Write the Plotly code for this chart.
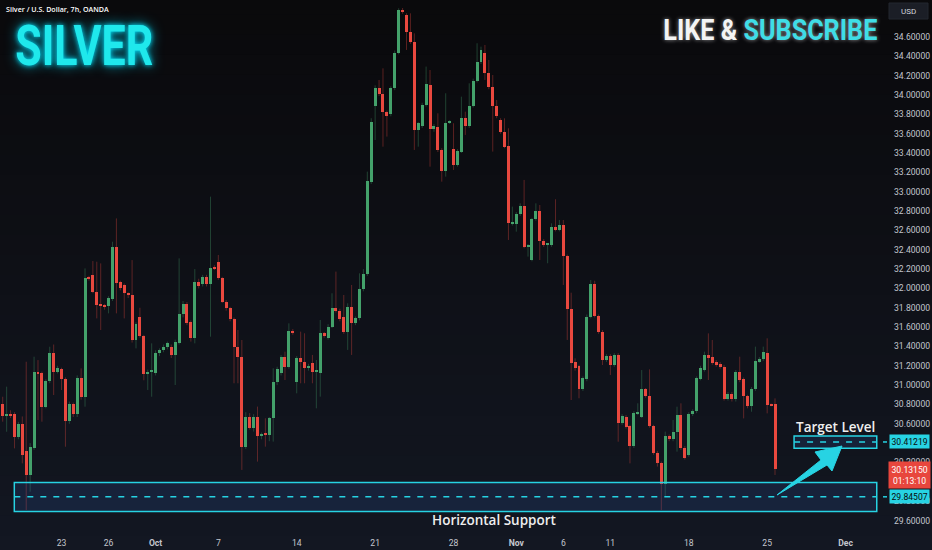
import numpy as np
import plotly.graph_objects as go

# ---------------- data (7h candles, XAG/USD) ----------------
opens = [30.804,30.690,30.700,30.698,30.467,30.598,30.322,30.070,30.346,31.139,
         31.121,30.777,31.042,31.328,31.139,31.166,31.059,30.629,30.801,30.698,
         31.077,30.880,32.110,32.138,31.966,31.835,31.828,31.818,31.890,32.431,
         32.062,32.035,31.952,31.932,31.466,31.700,31.508,31.111,31.139,31.121,
         31.328,31.363,31.390,31.397,31.311,31.439,31.732,31.835,31.656,31.483,
         32.069,32.046,32.115,32.046,32.225,32.274,32.105,31.863,31.794,31.681,
         31.398,31.295,30.364,30.674,30.561,30.674,30.474,30.491,30.485,30.657,
         31.036,31.122,31.295,31.191,31.560,31.036,31.277,31.243,31.174,31.226,
         31.139,31.129,31.536,31.491,31.605,31.794,31.770,31.701,31.553,31.812,
         31.646,31.691,31.991,32.150,33.104,33.887,34.070,34.011,33.821,33.804,
         34.070,34.438,34.880,34.828,34.656,34.552,33.639,33.680,33.897,34.104,
         33.646,33.673,33.432,33.218,33.715,33.439,33.277,33.415,33.766,33.680,
         33.887,34.145,34.338,34.438,34.232,34.087,33.887,33.740,33.621,33.473,
         32.673,32.667,32.767,32.853,32.425,32.294,32.715,32.804,32.494,32.449,
         32.449,32.639,32.605,32.653,32.336,31.784,31.243,31.198,30.960,31.060,
         31.708,32.046,31.715,31.553,31.260,31.301,31.208,31.311,30.612,30.674,
         30.577,30.374,30.708,30.674,30.956,30.887,30.577,30.301,30.198,29.977,
         30.474,30.439,30.512,30.691,30.353,30.277,30.698,30.732,31.063,31.156,
         31.311,31.287,31.242,31.218,31.191,30.856,30.908,30.853,31.139,31.060,
         30.887,30.784,30.956,31.249,31.267,31.336,30.794,30.805]
highs = [30.880,30.984,30.740,30.720,30.620,30.676,31.242,30.400,31.294,31.259,
         31.140,31.060,31.397,31.420,31.200,31.180,31.080,30.830,30.820,31.100,
         31.173,32.207,32.130,32.283,32.276,32.259,31.840,31.920,32.483,32.724,
         32.080,32.050,31.960,32.293,31.650,31.800,31.520,31.160,31.432,31.360,
         31.380,31.420,31.450,31.420,31.470,32.311,31.870,31.860,31.670,32.200,
         32.100,32.140,32.140,32.949,32.240,32.346,32.120,31.880,31.810,31.700,
         31.570,31.467,30.720,30.710,30.700,30.778,30.510,30.657,30.670,31.174,
         31.190,31.310,31.346,31.639,31.580,31.300,31.553,31.536,31.220,31.312,
         31.260,31.674,31.550,31.630,31.950,32.174,31.790,31.932,31.846,32.036,
         31.710,32.156,32.200,33.208,33.760,34.100,34.156,34.276,33.840,34.090,
         34.460,34.897,34.900,34.845,34.845,34.638,33.720,33.920,34.294,34.259,
         33.700,33.811,33.450,34.018,33.740,33.708,33.440,33.983,33.828,34.121,
         34.170,34.535,34.500,34.518,34.363,34.207,33.949,33.760,33.759,33.656,
         32.846,32.790,32.880,33.122,32.460,32.730,32.880,32.863,32.510,32.470,
         32.673,32.922,32.708,32.708,32.350,31.956,31.277,31.210,31.090,31.730,
         32.087,32.080,31.730,31.570,31.320,31.320,31.330,31.330,30.700,30.690,
         30.590,30.730,30.812,31.156,30.970,31.163,30.590,30.320,30.210,30.519,
         30.490,30.639,30.777,30.812,30.370,30.720,30.750,31.090,31.200,31.346,
         31.535,31.467,31.260,31.240,31.210,30.930,30.930,31.156,31.294,31.080,
         30.900,30.980,31.398,31.290,31.398,31.484,30.810,30.863]
lows = [30.622,30.518,30.660,30.346,30.440,30.191,29.708,29.898,30.330,30.639,
        30.622,30.760,31.020,30.898,31.120,30.949,30.363,30.600,30.670,30.670,
        30.850,30.777,32.080,31.950,31.690,31.570,31.780,31.742,31.870,31.742,
        31.980,31.690,31.900,31.440,31.380,31.490,31.050,30.950,30.880,31.100,
        31.300,31.340,31.370,31.280,31.001,31.420,31.700,31.620,31.450,31.432,
        32.000,32.020,32.020,31.501,32.190,32.090,31.850,31.770,31.660,31.019,
        31.019,30.123,30.340,30.540,30.520,30.209,30.440,30.364,30.420,30.416,
        31.000,31.100,31.053,31.170,31.520,30.915,31.019,31.019,31.150,31.019,
        30.760,30.881,31.490,31.470,31.590,31.750,31.660,31.530,31.364,31.312,
        31.620,31.670,31.970,32.130,33.080,33.535,33.990,33.466,33.570,33.780,
        34.050,34.420,34.840,34.466,34.530,33.432,33.466,33.660,33.880,33.259,
        33.620,33.410,33.104,33.156,33.700,33.225,33.260,33.400,33.587,33.660,
        33.870,34.130,34.320,34.156,34.060,33.415,33.760,33.600,33.450,32.501,
        32.650,32.587,32.750,32.415,32.329,32.280,32.700,32.294,32.430,32.260,
        32.430,32.590,32.590,32.036,31.467,30.846,31.150,30.864,30.940,31.040,
        31.690,31.700,31.530,31.208,31.240,31.105,31.190,30.415,30.590,30.550,
        30.191,30.350,30.690,30.660,30.870,30.560,30.280,30.157,29.709,29.850,
        30.420,30.420,30.312,30.330,30.230,30.260,30.680,30.710,31.050,31.140,
        31.053,31.210,31.190,31.170,30.840,30.840,30.830,30.830,31.030,30.656,
        30.760,30.725,30.940,31.230,31.250,30.708,30.780,30.071]
closes = [30.680,30.698,30.690,30.467,30.598,30.277,30.070,30.363,31.139,31.115,
          30.777,31.042,31.328,31.139,31.173,31.059,30.629,30.801,30.698,31.077,
          30.880,32.104,32.100,31.966,31.828,31.826,31.811,31.897,32.431,32.059,
          32.007,31.949,31.932,31.466,31.628,31.508,31.111,31.139,31.156,31.335,
          31.363,31.397,31.432,31.311,31.446,31.732,31.835,31.645,31.483,32.069,
          32.030,32.115,32.046,32.215,32.205,32.105,31.863,31.794,31.681,31.398,
          31.295,30.364,30.674,30.561,30.674,30.474,30.491,30.485,30.657,31.036,
          31.164,31.288,31.191,31.560,31.536,31.277,31.243,31.174,31.202,31.139,
          31.146,31.536,31.508,31.605,31.794,31.770,31.681,31.553,31.812,31.639,
          31.691,31.994,32.150,33.111,33.725,34.070,34.011,33.821,33.783,34.070,
          34.438,34.880,34.862,34.656,34.552,33.639,33.708,33.897,34.114,33.646,
          33.680,33.432,33.218,33.708,33.725,33.277,33.421,33.766,33.680,33.887,
          34.145,34.345,34.466,34.232,34.080,33.887,33.783,33.621,33.466,32.673,
          32.680,32.767,32.853,32.432,32.449,32.715,32.804,32.494,32.449,32.456,
          32.632,32.605,32.653,32.336,31.784,31.233,31.174,30.960,31.071,31.708,
          32.046,31.715,31.553,31.260,31.301,31.208,31.311,30.612,30.681,30.570,
          30.374,30.708,30.715,30.956,30.887,30.577,30.301,30.198,29.977,30.474,
          30.439,30.512,30.691,30.353,30.250,30.698,30.732,31.070,31.174,31.311,
          31.277,31.232,31.208,31.184,30.856,30.908,30.853,31.139,31.053,30.887,
          30.784,30.956,31.249,31.267,31.346,30.794,30.790,30.1315]

first_session = "2024-09-17"   # trading day of the first visible bar
bars_per_day = 4               # 7h bars per trading day
first_bar_slot = 1             # first visible bar is the 2nd bar of that day

tick_dates = ["2024-09-23", "2024-09-26", "2024-10-01", "2024-10-07", "2024-10-14",
              "2024-10-21", "2024-10-28", "2024-11-01", "2024-11-06", "2024-11-11",
              "2024-11-18", "2024-11-25", "2024-12-02"]
tick_labels = ["23", "26", "<b>Oct</b>", "7", "14", "21", "28", "<b>Nov</b>", "6", "11",
               "18", "25", "<b>Dec</b>"]

price_ticks = [29.6, 29.8, 30.2, 30.6, 30.8, 31.0, 31.2, 31.4, 31.6, 31.8,
               32.0, 32.2, 32.4, 32.6, 32.8, 33.0, 33.2, 33.4, 33.6, 33.8, 34.0, 34.2,
               34.4, 34.6]

support_level = 29.84507
target_level = 30.41219
last_price = 30.13150
countdown = "01:13:10"

# ---------------- geometry / style ----------------
W, H = 932, 550
PW, PH = 884, 528           # plot area size in px
UP, DOWN = "#44a26b", "#e9493f"
CYAN = "#27d3e3"
AXIS_FONT = dict(family="Roboto, sans-serif", size=8.6, color="#c3c6ce")

n = len(closes)
idx = list(range(n))
tick_vals = [int(np.busday_count(first_session, d)) * bars_per_day - first_bar_slot
             for d in tick_dates]

def px(x):
    return x / PW

def py(y):
    return 1 - y / PH

fig = go.Figure()

# wicks
for up in (True, False):
    xs, ys = [], []
    for i in idx:
        if (closes[i] >= opens[i]) == up:
            xs += [i, i, None]
            ys += [lows[i], highs[i], None]
    fig.add_trace(go.Scatter(x=xs, y=ys, mode="lines", hoverinfo="skip",
                             line=dict(color=("rgba(68,162,107,0.36)" if up else "rgba(233,73,63,0.36)"),
                                       width=1)))

# bodies
base = [min(o, c) for o, c in zip(opens, closes)]
height = [max(abs(c - o), 0.012) for o, c in zip(opens, closes)]
colors = [UP if c >= o else DOWN for o, c in zip(opens, closes)]
fig.add_trace(go.Bar(x=idx, y=height, base=base, width=0.76, marker=dict(color=colors, line=dict(width=0)),
                     hoverinfo="skip"))

shapes = []
# gradient background
steps = 28
span = 1 + 22 / PH + 0.02
for k in range(steps):
    t = k / (steps - 1)
    r = int(10 + (19 - 10) * t)
    g = int(10 + (23 - 10) * t)
    b = int(12 + (34 - 12) * t)
    y_top = 1 + 0.01 - k * span / steps
    y_bot = y_top - span / steps - 0.002
    shapes.append(dict(type="rect", xref="paper", yref="paper", x0=-0.01, x1=1.07,
                       y0=y_bot, y1=y_top, fillcolor=f"rgb({r},{g},{b})", line=dict(width=0),
                       layer="below"))

# support zone
sup_x0, sup_x1 = 2.96, 222.95
tgt_x0, tgt_x1 = 201.86, 222.95
shapes.append(dict(type="rect", xref="x", yref="y", x0=sup_x0, x1=sup_x1,
                   y0=support_level - 0.152, y1=support_level + 0.148,
                   fillcolor="rgba(45,90,170,0.20)", line=dict(color=CYAN, width=1.5)))
shapes.append(dict(type="line", xref="x", yref="y", x0=sup_x0, x1=sup_x1,
                   y0=support_level, y1=support_level,
                   line=dict(color=CYAN, width=1.5, dash="6px,7px")))
# target zone
shapes.append(dict(type="rect", xref="x", yref="y", x0=tgt_x0, x1=tgt_x1,
                   y0=target_level - 0.064, y1=target_level + 0.062,
                   fillcolor="rgba(45,90,170,0.20)", line=dict(color=CYAN, width=1.5)))
shapes.append(dict(type="line", xref="x", yref="y", x0=tgt_x0, x1=tgt_x1,
                   y0=target_level, y1=target_level,
                   line=dict(color=CYAN, width=1.5, dash="6px,7px")))
# small dashes by the price tags
for lvl in (support_level, target_level):
    shapes.append(dict(type="line", xref="paper", yref="y", x0=px(883), x1=px(887), y0=lvl, y1=lvl,
                       line=dict(color=CYAN, width=1.5)))

# arrow (pixel outline converted to paper coordinates)
arrow_pts = [(777, 495), (821, 460), (815, 452), (842, 446), (832, 471), (827, 465)]
path = "M " + " L ".join(f"{px(x):.5f},{py(y):.5f}" for x, y in arrow_pts) + " Z"
shapes.append(dict(type="path", xref="paper", yref="paper", path=path,
                   fillcolor=CYAN, line=dict(color=CYAN, width=1)))

# USD button
shapes.append(dict(type="rect", xref="paper", yref="paper", x0=px(889), x1=px(928),
                   y0=py(19), y1=py(3), fillcolor="#1b1e26", line=dict(color="#22262f", width=1)))

annotations = []
annotations.append(dict(xref="paper", yref="paper", x=px(4), y=py(8.5), xanchor="left", yanchor="middle",
                        text="Silver / U.S. Dollar, 7h, OANDA", showarrow=False,
                        font=dict(family="Open Sans, Roboto, sans-serif", size=7.1, color="#ffffff", weight=600)))
annotations.append(dict(xref="paper", yref="paper", x=px(84), y=py(46), xanchor="center", yanchor="middle",
                        text="SILVER", showarrow=False,
                        font=dict(family="Roboto, sans-serif",
                                  size=55, color="#1fe8ec", weight=700,
                                  shadow="0px 0px 6px #00e5ff, 0px 0px 14px rgba(0,220,255,0.7)")))
annotations.append(dict(xref="paper", yref="paper", x=px(770), y=py(30), xanchor="center", yanchor="middle",
                        text="LIKE &amp; <span style='color:#3fdde6'>SUBSCRIBE</span>", showarrow=False,
                        font=dict(family="Roboto, sans-serif",
                                  size=29, color="#f4f4f4", weight=700,
                                  shadow="0px 0px 5px rgba(255,255,255,0.55)")))
annotations.append(dict(xref="paper", yref="paper", x=px(908.5), y=py(11), xanchor="center", yanchor="middle",
                        text="USD", showarrow=False,
                        font=dict(family="Roboto, sans-serif", size=8, color="#d1d4dc")))
annotations.append(dict(xref="x", yref="y", x=(tgt_x0 + tgt_x1) / 2, y=target_level + 0.062,
                        yanchor="bottom", xanchor="center", yshift=-2,
                        text="Target Level", showarrow=False,
                        font=dict(family="Open Sans, Roboto, sans-serif", size=13.5, color="#eeeeee", weight=600)))
annotations.append(dict(xref="paper", yref="y", x=px(494), y=support_level - 0.152,
                        yanchor="top", xanchor="center", yshift=3,
                        text="Horizontal Support", showarrow=False,
                        font=dict(family="Open Sans, Roboto, sans-serif", size=13.5, color="#eeeeee", weight=600)))
# price tags
for lvl in (target_level, support_level):
    annotations.append(dict(xref="paper", yref="y", x=px(889), y=lvl, xanchor="left", yanchor="middle",
                            text=f"{lvl:.5f}", showarrow=False, bgcolor=CYAN, borderpad=1.5,
                            font=dict(family="Roboto, sans-serif", size=8.6, color="#0a0a0a")))
annotations.append(dict(xref="paper", yref="y", x=px(888), y=last_price, xanchor="left", yanchor="middle",
                        yshift=-6, text=f"{last_price:.5f}<br>{countdown}", showarrow=False,
                        bgcolor="#e8463d", borderpad=2.5, align="center",
                        font=dict(family="Roboto, sans-serif", size=8.6, color="#ffffff")))

fig.update_layout(
    width=W, height=H,
    margin=dict(l=0, r=W - PW, t=0, b=H - PH, autoexpand=False),
    paper_bgcolor="#131722", plot_bgcolor="rgba(0,0,0,0)",
    showlegend=False, bargap=0,
    shapes=shapes, annotations=annotations,
    xaxis=dict(range=[-0.69, 224.8], tickvals=tick_vals, ticktext=tick_labels,
               showgrid=False, zeroline=False, showline=False, ticks="", automargin=False,
               tickfont=AXIS_FONT, ticklabelstandoff=8),
    yaxis=dict(range=[29.5225, 34.9826], side="right", tickvals=price_ticks,
               ticktext=[f"{v:.5f}" for v in price_ticks], automargin=False,
               showgrid=False, zeroline=False, showline=False, ticks="",
               tickfont=AXIS_FONT, ticklabelstandoff=9),
)

# page tweaks: no body margin; condense the two banner titles to their reference widths
post = """
document.body.style.margin = '0px';
var gd = document.getElementById('{plot_id}');
gd.querySelectorAll('text.annotation-text').forEach(function (t) {
  var s = t.textContent;
  if (s === 'SILVER') { t.setAttribute('textLength', '138'); t.setAttribute('lengthAdjust', 'spacingAndGlyphs'); }
  if (s.indexOf('SUBSCRIBE') >= 0) { t.setAttribute('textLength', '214'); t.setAttribute('lengthAdjust', 'spacingAndGlyphs'); }
});
"""

fig.write_html("out.html", post_script=post, config={"displayModeBar": False})
